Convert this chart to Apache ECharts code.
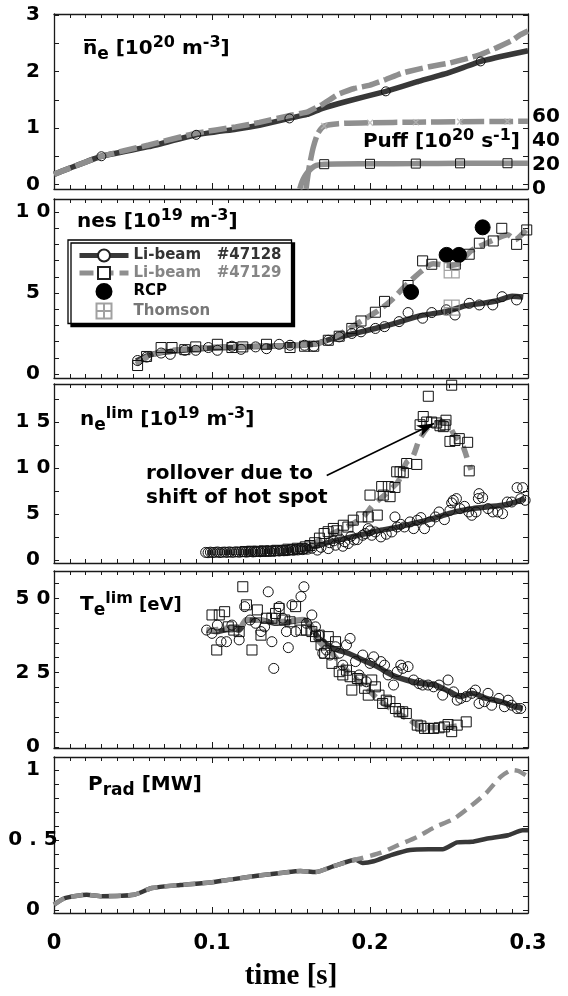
<!DOCTYPE html>
<html><head><meta charset="utf-8">
<script src="https://cdn.jsdelivr.net/npm/echarts@6/dist/echarts.min.js"></script>
<style>html,body{margin:0;padding:0;background:#fff}#c{width:568px;height:996px}</style>
</head><body><div id="c"></div>
<script>
// ================= DATA =================
// Panel 1 : line-averaged density [1e20 m^-3] and gas puff [1e20 s^-1]
const neT128 = [0, 0.01, 0.03, 0.06, 0.09, 0.115, 0.13, 0.149, 0.16, 0.17, 0.185, 0.21, 0.23, 0.25, 0.27, 0.285, 0.3];
const neV128 = [0.18, 0.29, 0.50, 0.67, 0.88, 0.98, 1.05, 1.17, 1.24, 1.35, 1.47, 1.65, 1.82, 1.98, 2.18, 2.28, 2.37];
const neMarkT128 = [0.03, 0.09, 0.149, 0.21, 0.27];
const neMarkV128 = [0.50, 0.88, 1.17, 1.65, 2.18];
const neT129 = [0, 0.01, 0.03, 0.06, 0.09, 0.115, 0.13, 0.149, 0.16, 0.17, 0.18, 0.19, 0.2, 0.21, 0.22, 0.23, 0.24, 0.25, 0.26, 0.27, 0.28, 0.29, 0.295, 0.3];
const neV129 = [0.18, 0.29, 0.50, 0.70, 0.91, 1.02, 1.10, 1.22, 1.28, 1.42, 1.60, 1.70, 1.76, 1.86, 1.97, 2.04, 2.10, 2.15, 2.22, 2.30, 2.42, 2.55, 2.65, 2.72];
const puffT_a = [0.1555, 0.157, 0.1585, 0.16, 0.163, 0.166, 0.171, 0.2, 0.229, 0.257, 0.287, 0.3];
const puffV_a = [0, 6, 10, 13, 17, 19.5, 20.5, 20.8, 21, 21.2, 21.3, 21.3];
const puffMarkT_a = [0.171, 0.2, 0.229, 0.257, 0.287];
const puffMarkV_a = [20.5, 20.8, 21, 21.2, 21.3];
const puffT_b = [0.1595, 0.1615, 0.164, 0.167, 0.171, 0.18, 0.2, 0.229, 0.257, 0.287, 0.3];
const puffV_b = [0, 18, 34, 46, 52, 54, 54.8, 55.2, 55.6, 55.8, 56];
const puffMarkT_b = [0.171, 0.2, 0.229, 0.257, 0.287];
const puffMarkV_b = [52, 54.8, 55.2, 55.6, 55.8];
const puffTicks = [0, 20, 40, 60];

// Panel 2 : separatrix density nes [1e19 m^-3]
const nesFitT128 = [0.052, 0.06, 0.07, 0.085, 0.1, 0.115, 0.13, 0.15, 0.165, 0.175, 0.19, 0.205, 0.22, 0.232, 0.245, 0.252, 0.26, 0.27, 0.28, 0.29, 0.297];
const nesFitV128 = [0.8, 1.15, 1.35, 1.5, 1.6, 1.65, 1.7, 1.75, 1.85, 2.15, 2.5, 2.85, 3.25, 3.6, 3.8, 3.95, 4.2, 4.35, 4.5, 4.8, 4.75];
const nesFitT129 = [0.052, 0.06, 0.07, 0.085, 0.1, 0.115, 0.13, 0.15, 0.165, 0.175, 0.185, 0.195, 0.205, 0.213, 0.222, 0.232, 0.24, 0.25, 0.256, 0.264, 0.272, 0.28, 0.287, 0.292, 0.296, 0.3];
const nesFitV129 = [0.6, 1.1, 1.4, 1.55, 1.65, 1.7, 1.72, 1.75, 1.85, 2.15, 2.7, 3.3, 3.9, 4.5, 5.4, 6.3, 6.8, 6.7, 6.8, 7.6, 8.0, 8.35, 8.6, 8.3, 8.6, 9.0];
const nesCirT = [0.0529, 0.0586, 0.0678, 0.0736, 0.0828, 0.0897, 0.0977, 0.1034, 0.1126, 0.1184, 0.1276, 0.1345, 0.1425, 0.1494, 0.1586, 0.1644, 0.1736, 0.1805, 0.1885, 0.1943, 0.2034, 0.2092, 0.2184, 0.2241, 0.2333, 0.2391, 0.2483, 0.2538, 0.2628, 0.2692, 0.2777, 0.2836, 0.2928];
const nesCirV = [0.83, 1.04, 1.29, 1.21, 1.46, 1.46, 1.63, 1.46, 1.71, 1.52, 1.67, 1.56, 1.83, 1.77, 1.77, 1.71, 2.08, 2.29, 2.5, 2.6, 2.81, 2.92, 3.23, 3.79, 3.44, 3.79, 3.96, 3.64, 4.36, 4.26, 4.26, 4.77, 4.57];
const nesSqT = [0.0529, 0.0586, 0.0678, 0.0747, 0.0828, 0.0897, 0.1034, 0.1126, 0.1195, 0.1345, 0.1494, 0.1586, 0.1644, 0.1736, 0.1805, 0.1885, 0.1943, 0.2034, 0.2092, 0.2241, 0.2333, 0.2391, 0.2540, 0.2628, 0.2692, 0.2780, 0.2834, 0.2928, 0.2992];
const nesSqV = [0.52, 1.08, 1.63, 1.63, 1.5, 1.67, 1.83, 1.63, 1.67, 1.83, 1.63, 1.71, 1.71, 2.08, 2.33, 2.81, 3.27, 3.81, 4.48, 5.46, 6.98, 6.77, 6.77, 7.39, 8.07, 8.21, 8.99, 8.0, 8.89];
const rcpT = [0.226, 0.2485, 0.2563, 0.2713];
const rcpV = [5.06, 7.35, 7.35, 9.05];
const thomT = [0.2517, 0.2517];
const thomV = [6.4, 4.1];

// Panel 3 : limiter density ne^lim [1e19 m^-3]
const limCirT = [0.0960,0.0975,0.0990,0.1005,0.1020,0.1035,0.1050,0.1065,0.1080,0.1095,0.1110,0.1125,0.1140,0.1155,0.1170,0.1185,0.1200,0.1215,0.1230,0.1245,0.1260,0.1275,0.1290,0.1305,0.1320,0.1335,0.1350,0.1365,0.1380,0.1395,0.1410,0.1425,0.1440,0.1455,0.1470,0.1485,0.1500,0.1515,0.1530,0.1545,0.1560,0.1575,0.1590,0.1605,
  0.1632,0.1667,0.169,0.1736,0.1745,0.177,0.1782,0.181,0.1828,0.184,0.1862,0.188,0.19,0.192,0.1954,0.197,0.1989,0.2,0.2011,0.2034,0.2069,0.2103,0.2138,0.2158,0.2172,0.2195,0.2218,0.2253,0.2276,0.2299,0.2322,0.2345,0.2379,0.2414,0.2437,0.2471,0.2506,0.2517,0.2527,0.2547,0.257,0.2598,0.2625,0.2644,0.2671,0.2686,0.269,0.2713,0.2747,0.2777,0.2809,0.2839,0.2869,0.2897,0.2931,0.2954,0.2966,0.2982];
const limCirV = [0.85,0.82,0.88,0.84,0.86,0.90,0.83,0.87,0.89,0.85,0.91,0.86,0.88,0.92,0.87,0.90,0.93,0.88,0.91,0.95,0.90,0.93,0.96,0.92,0.97,0.94,0.99,0.95,1.02,0.98,1.05,1.00,1.08,1.03,1.10,1.06,1.15,1.08,1.18,1.12,1.22,1.15,1.28,1.20,
  1.3,1.1,1.4,1.26,1.9,2.1,1.63,2.3,1.52,2.0,1.81,2.6,2.2,2.24,2.71,2.9,3.43,3.2,2.71,3.07,2.53,2.82,3.07,4.7,3.61,3.9,3.61,4.16,3.43,4.34,4.63,3.43,4.16,4.7,5.24,4.41,5.42,6.22,6.5,6.69,5.6,5.85,5.24,4.88,5.24,6.7,7.23,6.79,5.6,5.24,5.24,5.06,6.32,6.32,7.88,6.69,7.88,6.5];
const limSqT = [0.121,0.125,0.129,0.133,0.137,0.141,0.145,0.148,0.151,0.154,0.157,0.159,0.162,0.165,0.168,0.171,0.1735,0.1768,0.179,0.1831,0.186,0.1894,0.1948,0.1989,0.2,0.2046,0.2074,0.2084,0.2116,0.2127,0.2158,0.2169,0.219,0.2211,0.2232,0.2296,0.2317,0.2337,0.2359,0.2369,0.239,0.2422,0.2443,0.2464,0.2475,0.2481,0.2506,0.2517,0.2538,0.2565,0.2618,0.2628];
const limSqV = [0.95,0.98,0.97,1.02,1.0,1.08,1.05,1.2,1.15,1.3,1.25,1.45,1.6,1.9,2.4,2.9,3.1,3.45,3.2,3.8,3.6,4.35,4.7,4.7,7.07,4.9,8.0,7.07,8.0,6.9,7.9,9.6,9.6,9.5,10.5,10.4,14.7,15.6,15.0,17.8,15.0,14.9,14.6,14.5,14.7,15.2,12.9,19.0,13.0,13.2,12.8,9.7];
const limFitT128 = [0.097, 0.12, 0.14, 0.155, 0.165, 0.175, 0.185, 0.195, 0.205, 0.215, 0.225, 0.235, 0.245, 0.255, 0.265, 0.275, 0.285, 0.292, 0.298];
const limFitV128 = [0.85, 0.9, 1.0, 1.2, 1.5, 2.0, 2.4, 2.8, 3.2, 3.5, 3.9, 4.3, 4.8, 5.3, 5.6, 5.8, 6.0, 6.3, 6.7];
const limFitT129 = [0.1, 0.13, 0.155, 0.165, 0.175, 0.185, 0.195, 0.202, 0.21, 0.218, 0.223, 0.227, 0.231, 0.236, 0.241, 0.246, 0.25, 0.253, 0.256, 0.259, 0.262, 0.264];
const limFitV129 = [0.9, 1.0, 1.3, 1.9, 2.8, 3.6, 4.6, 6.0, 7.2, 8.6, 10.6, 11.2, 13.0, 14.3, 14.9, 15.0, 14.6, 13.7, 13.1, 12.3, 10.8, 9.8];

// Panel 4 : limiter temperature Te^lim [eV]
const teCirT = [0.0966,0.1,0.1034,0.1057,0.1092,0.1126,0.1172,0.1207,0.1241,0.1276,0.131,0.1333,0.1356,0.1379,0.1391,0.1425,0.1448,0.1471,0.1483,0.1506,0.1529,0.1563,0.1582,0.1598,0.1632,0.1655,0.1678,0.1701,0.1724,0.1747,0.1782,0.1805,0.1828,0.1851,0.1874,0.1908,0.1931,0.1954,0.1977,0.2,0.2023,0.2069,0.2092,0.2115,0.2149,0.2172,0.2195,0.2207,0.2241,0.2276,0.231,0.2333,0.2368,0.2402,0.2437,0.246,0.2494,0.2529,0.2552,0.2575,0.2609,0.2644,0.2667,0.269,0.2724,0.2747,0.277,0.2816,0.2851,0.2874,0.2897,0.2931,0.2954];
const teCirV = [39.3,38.2,41.0,35.4,35.4,41.0,36.0,47.2,42.7,41.6,38.8,40.4,52.2,35.4,26.4,47.2,43.3,38.8,33.4,47.8,38.8,50.6,53.9,41.6,44.4,40.4,37.6,31.5,32.6,30.9,33.7,31.5,27.5,34.3,36.5,28.7,24.2,30.9,21.9,28.1,30.3,28.7,27.5,24.2,20.8,25.3,27.5,26.4,27.0,22.5,21.3,20.8,20.8,20.2,20.8,17.4,22.5,18.5,15.7,16.3,16.9,18.0,19.1,14.6,15.2,18.0,14.0,16.3,13.5,15.7,14.0,12.9,12.9];
const teSqT = [0.1,0.103,0.1046,0.108,0.1103,0.1138,0.1172,0.1195,0.1218,0.1253,0.1287,0.131,0.1345,0.1379,0.1402,0.1425,0.146,0.1494,0.1529,0.1563,0.1598,0.1632,0.1655,0.1678,0.169,0.1713,0.1736,0.1759,0.1782,0.1805,0.1828,0.1851,0.1874,0.1885,0.192,0.1943,0.1966,0.1989,0.2011,0.2034,0.2057,0.208,0.2103,0.2126,0.2161,0.2184,0.2207,0.223,0.2299,0.2322,0.2345,0.2368,0.2402,0.2437,0.2471,0.2494,0.2517,0.2552,0.2609];
const teSqV = [44.4,32.6,44.4,45.5,40.4,39.3,38.8,53.9,47.8,32.6,46.1,37.6,43.3,43.3,44.9,46.6,42.7,42.1,47.2,39.3,39.3,38.8,37.1,37.6,34.3,31.5,37.1,28.1,35.4,25.3,24.2,25.8,23.6,19.1,23.0,22.5,19.7,17.4,22.5,20.2,17.4,14.6,15.7,15.2,12.9,11.8,11.8,11.2,7.3,7.0,6.2,6.2,6.2,6.4,6.7,7.5,5.1,7.3,8.4];
const teFitT128 = [0.0966,0.1034,0.1126,0.1172,0.1218,0.131,0.1402,0.1494,0.1586,0.1632,0.1678,0.177,0.1862,0.1954,0.2046,0.2138,0.223,0.2322,0.2414,0.2506,0.2575,0.2644,0.2736,0.2828,0.292,0.2966];
const teFitV128 = [39.3,38.8,39.9,39.3,42.7,42.7,41.6,42.1,42.7,39.9,36.5,33.1,31.5,29.2,27.0,24.2,22.5,21.3,20.8,18.5,16.9,18.0,16.3,15.2,13.5,12.9];
const teFitT129 = [0.0966,0.1034,0.1126,0.1172,0.1218,0.131,0.1402,0.1494,0.1586,0.1632,0.1678,0.177,0.1839,0.1908,0.1977,0.2069,0.2161,0.2253,0.2322,0.2414,0.2506,0.2575];
const teFitV129 = [39.3,39.5,40.2,39.8,42.9,42.5,42.0,42.4,42.9,40.5,35.4,30.9,26.4,23.0,19.7,15.2,11.8,9.0,6.7,6.5,6.7,7.3];

// Panel 5 : radiated power Prad [MW]
const pradT128 = [0,0.0069,0.0207,0.03,0.0506,0.062,0.08,0.0989,0.1126,0.131,0.1448,0.156,0.1655,0.177,0.1908,0.1954,0.2023,0.2138,0.2253,0.237,0.246,0.2552,0.2644,0.2736,0.2874,0.2966,0.3];
const pradV128 = [0.04,0.086,0.11,0.1,0.11,0.158,0.18,0.198,0.22,0.249,0.267,0.28,0.272,0.314,0.36,0.337,0.349,0.395,0.43,0.435,0.435,0.484,0.488,0.51,0.535,0.57,0.57];
const pradT129 = [0,0.0069,0.0207,0.03,0.0506,0.062,0.08,0.0989,0.1126,0.131,0.1448,0.156,0.1655,0.177,0.1908,0.207,0.218,0.23,0.241,0.253,0.264,0.2736,0.2828,0.29,0.294,0.3];
const pradV129 = [0.04,0.086,0.11,0.1,0.11,0.158,0.18,0.198,0.22,0.249,0.267,0.28,0.272,0.314,0.36,0.41,0.465,0.523,0.593,0.651,0.744,0.837,0.953,1.0,0.993,0.953];

// Tick label lists
const xTicks = [0, 0.1, 0.2, 0.3];
const yLabels = [[0,1,2,3],[0,5,10],[0,5,10,15],[0,25,50],[0,0.5,1]];
const labelText = {10:'1 0', 15:'1 5', 25:'2 5', 50:'5 0', 0.5:'0 . 5'};

// ================= LAYOUT / STYLE =================
const FONT = 'DejaVu Sans';
const DARK = '#383838', GRAY = '#8f8f8f';
const L = 54, W = 474;
function steps(a, b, s) { const r = []; for (let k = 0; a + k * s <= b + 1e-9; k++) r.push(+(a + k * s).toFixed(4)); return r; }
const panels = [
  {top: 14,  h: 175, min: -0.08, max: 3.02,  ticks: steps(0, 3, 0.5)},
  {top: 199, h: 179, min: -0.25, max: 10.8,  ticks: steps(0, 10, 1)},
  {top: 384, h: 179, min: -0.3,  max: 19.13, ticks: steps(0, 17.5, 2.5)},
  {top: 571, h: 177, min: -0.4,  max: 59.2,  ticks: steps(0, 55, 5)},
  {top: 757, h: 156, min: -0.02, max: 1.093, ticks: steps(0, 1, 0.1)}
];
const axisLineStyle = {show: true, onZero: false, lineStyle: {color: '#1a1a1a', width: 1.3}};

const grid = panels.map(p => ({left: L, width: W, top: p.top, height: p.h, containLabel: false, outerBoundsMode: 'none'}));
const xAxis = [], yAxis = [];
panels.forEach((p, i) => {
  const last = i === panels.length - 1;
  ['bottom', 'top'].forEach(pos => {
    xAxis.push({
      type: 'value', gridIndex: i, position: pos, min: 0, max: 0.3, interval: 0.1,
      axisLine: axisLineStyle, splitLine: {show: false},
      axisTick: {show: true, inside: true, length: 6, lineStyle: {color: '#1a1a1a', width: 1}},
      minorTick: {show: true, splitNumber: 10, length: 4, lineStyle: {color: '#1a1a1a', width: 1}},
      axisLabel: {show: last && pos === 'bottom', margin: 20, fontSize: 21, fontWeight: 'bold', fontFamily: FONT, color: '#000',
        customValues: xTicks, formatter: v => v === 0 ? '0' : v.toFixed(1)},
      name: (last && pos === 'bottom') ? 'time [s]' : '', nameLocation: 'middle', nameGap: 49,
      nameTextStyle: {fontFamily: 'Liberation Serif', fontWeight: 'bold', fontSize: 29, color: '#000'}
    });
  });
  ['left', 'right'].forEach(pos => {
    yAxis.push({
      type: 'value', gridIndex: i, position: pos, min: p.min, max: p.max,
      axisLine: axisLineStyle, splitLine: {show: false},
      axisTick: {show: true, inside: true, length: 5, customValues: p.ticks, lineStyle: {color: '#1a1a1a', width: 1}},
      axisLabel: {show: pos === 'left', customValues: yLabels[i], align: 'center', margin: 21, fontSize: 20, fontWeight: 'bold',
        fontFamily: FONT, color: '#000', formatter: v => labelText[v] !== undefined ? labelText[v] : String(v)}
    });
  });
});
// Puff axis (right side of panel 1)
yAxis.push({
  type: 'value', gridIndex: 0, position: 'right', min: 0, max: 144.6,
  axisLine: {show: false}, axisTick: {show: false}, splitLine: {show: false},
  axisLabel: {show: true, customValues: puffTicks, margin: 4, fontSize: 20, fontWeight: 'bold', fontFamily: FONT, color: '#000'}
});
const PUFF_Y = 10;

function pairs(t, v) { return t.map((x, i) => [x, v[i]]); }
const common = {animation: false, emphasis: {disabled: true}};
function line(gi, t, v, color, width, dash, z, extra) {
  return Object.assign({type: 'line', xAxisIndex: 2 * gi, yAxisIndex: 2 * gi, data: pairs(t, v), showSymbol: false,
    symbol: 'none', smooth: 0.25, z: z, lineStyle: {color: color, width: width, type: dash || 'solid', cap: 'butt'},
    itemStyle: {color: color}}, common, extra || {});
}
function marks(gi, t, v, symbol, size, stroke, fill, z, extra) {
  return Object.assign({type: 'scatter', xAxisIndex: 2 * gi, yAxisIndex: 2 * gi, data: pairs(t, v), symbol: symbol,
    symbolSize: size, z: z, itemStyle: {color: fill, borderColor: stroke, borderWidth: 1, opacity: 1}}, common, extra || {});
}
const CLEAR = 'rgba(0,0,0,0)';
const CROSS = 'path://M0,0L10,10M10,0L0,10';
const THOM = 'path://M0,0L10,0L10,10L0,10Z M5,0L5,10 M0,5L10,5';
const NAME128 = 'Li-beam   #47128', NAME129 = 'Li-beam   #47129';

const series = [
  // panel 2 (legend-carrying lines first)
  line(1, nesFitT128, nesFitV128, DARK, 5.5, 'solid', 2, {name: NAME128, symbol: 'emptyCircle', symbolSize: 9}),
  line(1, nesFitT129, nesFitV129, GRAY, 5.5, [14, 6], 3, {name: NAME129, symbol: 'emptyRect', symbolSize: 9}),
  marks(1, nesCirT, nesCirV, 'circle', 10, '#111', CLEAR, 4, {name: 'nes circles'}),
  marks(1, nesSqT, nesSqV, 'rect', 10, '#111', CLEAR, 4, {name: 'nes squares'}),
  marks(1, rcpT, rcpV, 'circle', 15, '#000', '#000', 5, {name: 'RCP'}),
  marks(1, thomT, thomV, THOM, 15, '#8a8a8a', CLEAR, 5, {name: 'Thomson', itemStyle: {color: CLEAR, borderColor: '#8a8a8a', borderWidth: 1.2}}),
  // panel 1
  line(0, neT128, neV128, DARK, 5.5, 'solid', 2, {name: 'ne 128', smooth: 0.1}),
  line(0, neT129, neV129, GRAY, 5.5, [18, 5], 3, {name: 'ne 129', smooth: 0.1}),
  marks(0, neMarkT128, neMarkV128, 'circle', 9, '#111', CLEAR, 4, {name: 'ne marks'}),
  line(0, puffT_b, puffV_b, GRAY, 5.5, [24, 5], 2, {name: 'puff b', yAxisIndex: PUFF_Y, smooth: 0.2}),
  marks(0, puffMarkT_b, puffMarkV_b, CROSS, 6, '#b0b0b0', CLEAR, 4, {name: 'puff b marks', yAxisIndex: PUFF_Y,
    itemStyle: {color: CLEAR, borderColor: '#b5b5b5', borderWidth: 1.5}}),
  line(0, puffT_a, puffV_a, GRAY, 5.5, 'solid', 2, {name: 'puff a', yAxisIndex: PUFF_Y, smooth: 0.2}),
  marks(0, puffMarkT_a, puffMarkV_a, 'rect', 9, '#111', CLEAR, 4, {name: 'puff a marks', yAxisIndex: PUFF_Y}),
  // panel 3
  line(2, limFitT128, limFitV128, DARK, 5.5, 'solid', 2, {name: 'lim fit 128'}),
  line(2, limFitT129, limFitV129, GRAY, 5.5, [12, 8], 2, {name: 'lim fit 129',
    markLine: {silent: true, symbol: ['none', 'arrow'], symbolSize: [9, 17], label: {show: false},
      lineStyle: {color: '#000', width: 1.6, type: 'solid'},
      data: [[{coord: [0.1726, 9.2]}, {coord: [0.2405, 14.85]}]]}}),
  marks(2, limCirT, limCirV, 'circle', 10, '#111', CLEAR, 3, {name: 'lim circles'}),
  marks(2, limSqT, limSqV, 'rect', 10, '#111', CLEAR, 3, {name: 'lim squares'}),
  // panel 4
  line(3, teFitT128, teFitV128, DARK, 5.5, 'solid', 2, {name: 'te fit 128'}),
  line(3, teFitT129, teFitV129, GRAY, 5.5, [12, 6], 2, {name: 'te fit 129'}),
  marks(3, teCirT, teCirV, 'circle', 10, '#111', CLEAR, 3, {name: 'te circles'}),
  marks(3, teSqT, teSqV, 'rect', 10, '#111', CLEAR, 3, {name: 'te squares'}),
  // panel 5
  line(4, pradT128, pradV128, DARK, 4.5, 'solid', 2, {name: 'prad 128', smooth: 0.2}),
  line(4, pradT129, pradV129, GRAY, 4.5, [12, 7], 3, {name: 'prad 129', smooth: 0.2})
];

// ---- text annotations (titles) ----
const rich = {
  b:   {fontSize: 20, fontWeight: 'bold', fontFamily: FONT, lineHeight: 28, verticalAlign: 'middle', fill: '#000'},
  b2:  {fontSize: 18, fontWeight: 'bold', fontFamily: FONT, lineHeight: 28, verticalAlign: 'middle', fill: '#000'},
  sub: {fontSize: 17, fontWeight: 'bold', fontFamily: FONT, lineHeight: 17, verticalAlign: 'bottom', fill: '#000'},
  sup: {fontSize: 16, fontWeight: 'bold', fontFamily: FONT, lineHeight: 14, verticalAlign: 'top', fill: '#000'}
};
function label(x, y, text, align) {
  return {type: 'text', x: x, y: y, silent: true, z: 50,
    style: {text: text, rich: rich, align: align || 'left', verticalAlign: 'middle', fill: '#000',
      fontSize: 20, fontWeight: 'bold', fontFamily: FONT}};
}
const graphic = [
  label(83, 49, '{b|n}{sub|e}{b| [10}{sup|20}{b| m}{sup|-3}{b|]}'),
  {type: 'line', silent: true, z: 50, shape: {x1: 84, y1: 40, x2: 96, y2: 40}, style: {stroke: '#000', lineWidth: 2}},
  label(520, 142, '{b|Puff [10}{sup|20}{b| s}{sup|-1}{b|]}', 'right'),
  label(77, 222, '{b|nes [10}{sup|19}{b| m}{sup|-3}{b|]}'),
  label(80, 420, '{b|n}{sub|e}{sup|lim}{b| [10}{sup|19}{b| m}{sup|-3}{b|]}'),
  label(80, 605, '{b|T}{sub|e}{sup|lim}{b2| [eV]}'),
  label(88, 785, '{b|P}{sub|rad}{b| [MW]}'),
  {type: 'text', x: 146, y: 486, silent: true, z: 50,
    style: {text: 'rollover due to\nshift of hot spot', fontSize: 20, fontWeight: 'bold', fontFamily: FONT,
      lineHeight: 24, fill: '#000', align: 'left', verticalAlign: 'middle'}}
];

const option = {
  animation: false,
  backgroundColor: '#fff',
  textStyle: {fontFamily: FONT},
  grid: grid, xAxis: xAxis, yAxis: yAxis, series: series, graphic: graphic,
  legend: {
    show: true, selectedMode: false, orient: 'vertical', left: 68, top: 240,
    itemWidth: 49, itemHeight: 15, itemGap: 2.5, padding: [8, 10, 4, 9],
    backgroundColor: '#fff', borderColor: '#000', borderWidth: 1.3,
    shadowColor: '#000', shadowBlur: 0, shadowOffsetX: 3, shadowOffsetY: 3,
    textStyle: {fontSize: 15, fontWeight: 'bold', fontFamily: FONT},
    data: [
      {name: NAME128, textStyle: {color: '#333'}, lineStyle: {color: DARK, width: 5}, itemStyle: {color: '#222'}},
      {name: NAME129, textStyle: {color: '#858585'}, lineStyle: {color: GRAY, width: 5, type: [14, 6]}, itemStyle: {color: '#222'}},
      {name: 'RCP', textStyle: {color: '#000'}},
      {name: 'Thomson', textStyle: {color: '#777'}}
    ]
  }
};
const chart = echarts.init(document.getElementById('c'), null, {renderer: 'canvas'});
chart.setOption(option);
</script>
</body></html>
